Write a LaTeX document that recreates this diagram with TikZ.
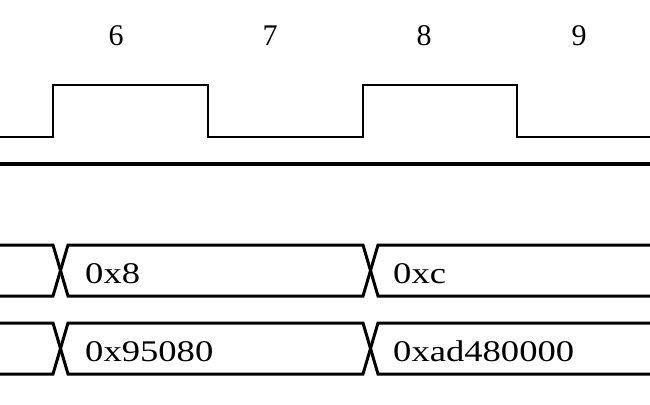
\documentclass[tikz,border=0pt]{standalone}
\usepackage{fontspec}
\setmainfont{Liberation Serif}
\usetikzlibrary{calc}

\tikzset{
  wave/.style={line width=2.6pt},
  buswave/.style={line width=3pt},
  cyclelab/.style={anchor=base, inner sep=0pt, font=\fontsize{30}{34}\selectfont},
  buslab/.style={anchor=base west, inner sep=0pt, font=\fontsize{30}{34}\selectfont}
}

\begin{document}
\begin{tikzpicture}[x=1pt,y=-1pt]
  \useasboundingbox (0,0) rectangle (650,404);
  % cycle numbers
  \foreach \n/\x in {6/116,7/270,8/424,9/579}
    \node [cyclelab] (cyc\n) at (\x,46) {\n};
  % clock
  \coordinate (clkstart) at (0,137);
  \coordinate (clkend) at (650,137);
  \draw [wave] (clkstart) -- (53,137) -- (53,85) -- (208,85) -- (208,137)
    -- (363,137) -- (363,85) -- (517,85) -- (517,137) -- (clkend);
  \draw [line width=3.6pt] (0,164) -- (650,164);
  % buses
  \foreach \yt/\yb/\va/\vb [count=\i] in {245/296/0x8/0xc, 323/374/0x95080/0xad480000} {
    \draw [buswave] (0,\yt) -- (53,\yt) -- (68,\yb) -- (363,\yb) -- (378,\yt) -- (650,\yt);
    \draw [buswave] (0,\yb) -- (53,\yb) -- (68,\yt) -- (363,\yt) -- (378,\yb) -- (650,\yb);
    \node [buslab] (bus\i a) at ($ (85,\yb) + (0,-13) $) {\scalebox{1.22}[1]{\va}};
    \node [buslab] (bus\i b) at ($ (393,\yb) + (0,-13) $) {\scalebox{1.22}[1]{\vb}};
  }
\end{tikzpicture}
\end{document}
